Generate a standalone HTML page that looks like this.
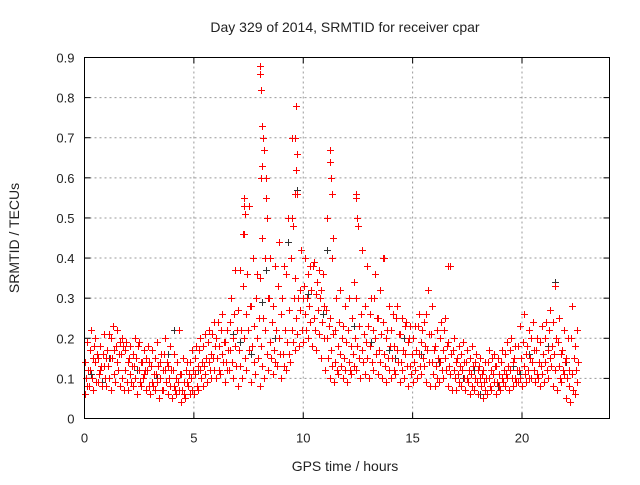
<!DOCTYPE html>
<html><head><meta charset="utf-8"><style>
body{margin:0;background:#fff;}
svg text{font-family:"Liberation Sans",sans-serif;fill:#222;}
</style></head><body>
<svg id="chart" width="640" height="480" viewBox="0 0 640 480" xmlns="http://www.w3.org/2000/svg">
<rect width="640" height="480" fill="#fff"/>
<g id="grid"></g>
<g id="axes"></g>
<path id="grey-series" stroke="#333" stroke-width="1" fill="none"/>
<path id="red-series" stroke="#f00" stroke-width="1" fill="none"/>
<rect x="84.5" y="57.5" width="525" height="361" fill="none" stroke="#000"/>
<text x="345" y="32" font-size="14" text-anchor="middle">Day 329 of 2014, SRMTID for receiver cpar</text>
<text x="0" y="0" font-size="14" text-anchor="middle" transform="translate(19,238) rotate(-90)">SRMTID / TECUs</text>
<text x="345" y="471" font-size="14" text-anchor="middle">GPS time / hours</text>
</svg>
<script>
const xTicks=[0,5,10,15,20];
const yTicks=[0,0.1,0.2,0.3,0.4,0.5,0.6,0.7,0.8,0.9];
const yTickLabels=["0","0.1","0.2","0.3","0.4","0.5","0.6","0.7","0.8","0.9"];
const sampleStep=0.2;
const lowVals=[.06,.08,.07,.09,.08,.08,.07,.09,.08,.07,.07,.08,.06,.08,.07,.06,.07,.05,.07,.06,.05,.06,.04,.05,.06,.06,.07,.08,.09,.10,.10,.11,.09,.12,.10,.08,.10,.12,.09,.11,.08,.10,.12,.11,.13,.10,.12,.14,.17,.18,.19,.20,.18,.17,.15,.12,.10,.09,.11,.10,.09,.11,.12,.10,.11,.10,.12,.11,.10,.09,.10,.11,.09,.10,.08,.09,.10,.11,.09,.08,.08,.09,.10,.08,.07,.07,.08,.07,.06,.07,.06,.05,.06,.07,.06,.07,.08,.07,.08,.09,.08,.09,.10,.09,.08,.09,.10,.08,.07,.09,.05,.04,.06];
const lowMidVals=[.08,.10,.09,.12,.10,.10,.11,.12,.10,.09,.09,.10,.09,.11,.08,.08,.09,.07,.09,.08,.07,.07,.06,.08,.07,.08,.10,.11,.12,.12,.12,.14,.12,.14,.13,.13,.15,.17,.14,.15,.13,.16,.15,.14,.16,.13,.16,.19,.21,.22,.22,.24,.22,.21,.20,.15,.13,.12,.13,.12,.12,.13,.15,.14,.15,.14,.16,.14,.13,.12,.12,.14,.12,.13,.11,.12,.13,.13,.14,.11,.10,.12,.12,.11,.10,.09,.10,.09,.08,.09,.08,.07,.08,.09,.08,.09,.10,.10,.09,.10,.11,.10,.12,.10,.11,.12,.13,.12,.10,.11,.08,.07,.09];
const midVals=[.10,.12,.14,.11,.13,.13,.15,.14,.16,.12,.11,.13,.12,.10,.12,.09,.11,.10,.12,.10,.08,.09,.07,.09,.10,.11,.12,.13,.14,.15,.15,.16,.14,.17,.18,.17,.20,.22,.18,.20,.18,.22,.19,.17,.20,.16,.19,.22,.25,.27,.26,.28,.25,.27,.24,.20,.17,.14,.16,.15,.14,.16,.18,.17,.19,.18,.20,.17,.16,.15,.15,.17,.14,.16,.13,.14,.16,.15,.17,.14,.13,.14,.15,.13,.12,.11,.12,.10,.11,.10,.10,.09,.10,.11,.09,.10,.11,.12,.10,.12,.13,.12,.14,.11,.13,.14,.15,.16,.13,.12,.10,.11,.12];
const midUpperVals=[.12,.15,.16,.13,.15,.15,.17,.16,.18,.14,.13,.15,.14,.12,.14,.11,.13,.12,.14,.12,.10,.11,.09,.11,.12,.13,.14,.15,.16,.18,.18,.19,.17,.20,.22,.22,.26,.28,.23,.25,.25,.30,.24,.22,.26,.22,.27,.30,.30,.30,.30,.32,.31,.30,.28,.23,.21,.18,.20,.19,.18,.20,.23,.21,.23,.22,.25,.21,.20,.18,.18,.21,.17,.19,.16,.17,.19,.18,.21,.17,.15,.17,.18,.16,.14,.13,.14,.12,.13,.12,.11,.10,.12,.13,.11,.12,.13,.14,.12,.15,.16,.15,.17,.14,.16,.17,.18,.20,.16,.14,.12,.15,.14];
const upperVals=[.14,.17,.18,.15,.16,.17,.20,.18,.19,.17,.15,.16,.18,.14,.15,.13,.15,.14,.16,.13,.12,.14,.11,.12,.14,.15,.17,.18,.19,.21,.20,.22,.19,.24,.26,.27,.33,.36,.28,.30,.35,.40,.30,.28,.33,.30,.36,.40,.35,.32,.33,.36,.38,.34,.32,.27,.25,.22,.24,.23,.22,.25,.30,.26,.28,.26,.30,.25,.24,.22,.22,.25,.21,.23,.20,.20,.23,.22,.26,.21,.18,.20,.22,.19,.17,.15,.16,.14,.15,.14,.13,.12,.14,.15,.13,.14,.16,.17,.15,.18,.19,.18,.20,.17,.19,.20,.22,.24,.19,.17,.15,.20,.18];
const highVals=[.19,.22,.20,.18,.21,.21,.23,.22,.20,.19,.18,.20,.19,.17,.18,.17,.19,.16,.20,.18,.16,.22,.15,.14,.17,.18,.20,.21,.22,.24,.24,.26,.22,.30,.37,.37,.46,.53,.40,.36,.45,.60,.40,.38,.44,.38,.50,.70,.56,.42,.40,.38,.39,.37,.36,.50,.40,.30,.32,.28,.30,.34,.48,.42,.38,.30,.36,.32,.40,.28,.26,.28,.25,.24,.23,.23,.26,.24,.32,.28,.22,.24,.25,.38,.20,.18,.19,.17,.18,.16,.15,.14,.17,.16,.15,.17,.19,.20,.18,.23,.26,.22,.24,.20,.23,.24,.27,.33,.25,.22,.20,.28,.22];
const spikeTimes=[8.0,8.0,8.05,8.1,8.15,8.2,8.1,9.65,9.6,9.7,9.65,9.6,11.2,11.2,11.25,11.3,12.4,12.4,12.45,7.3,7.3,7.35,13.65,16.6,21.5,9.5,8.3,8.35,8.05,9.55,11.35,7.25];
const spikeVals=[.88,.86,.82,.73,.70,.67,.63,.78,.70,.66,.62,.56,.67,.64,.60,.56,.56,.55,.50,.55,.53,.51,.40,.38,.33,.50,.55,.50,.60,.48,.45,.46];
const greyTimes=[0.3,1.1,2.4,3.3,4.1,5.2,6.3,7.1,7.6,8.3,8.7,9.3,9.6,9.7,10.2,10.9,11.6,12.3,13.1,13.9,14.6,15.4,16.2,17.3,18.1,18.9,19.6,20.3,21.2,21.5,22.3,0.8,3.8,6.8,11.1,14.2,17.8,19.9,22.0,8.1];
const greyVals=[.11,.15,.12,.10,.22,.12,.16,.19,.16,.37,.20,.44,.56,.57,.31,.26,.18,.23,.19,.17,.20,.16,.14,.10,.06,.08,.13,.16,.18,.34,.28,.09,.16,.21,.42,.15,.12,.11,.14,.29];

const X0=84.5,X1=609.5,Y0=418.5,Y1=57.5,XMAX=24,YMAX=0.9;
const xs=t=>X0+(X1-X0)*t/XMAX;
const ys=v=>Y0-(Y0-Y1)*v/YMAX;
const NS="http://www.w3.org/2000/svg";
const grid=document.getElementById('grid'),axes=document.getElementById('axes');
function mk(tag,attrs,parent){const e=document.createElementNS(NS,tag);for(const k in attrs)e.setAttribute(k,attrs[k]);parent.appendChild(e);return e;}
yTicks.forEach((v,i)=>{
  const y=ys(v);
  if(i>0&&i<yTicks.length-1){const g=mk('line',{x1:X0,x2:X1,y1:y,y2:y,stroke:'#999','stroke-dasharray':'2,3'},grid);
  
  }
  const t1=mk('line',{x1:X0,x2:X0+6,y1:y,y2:y,stroke:'#000'},axes);
  
  
  const t2=mk('line',{x1:X1,x2:X1-6,y1:y,y2:y,stroke:'#000'},axes);
  
  
  const l=mk('text',{x:X0-10,y:y+5,'font-size':'13','text-anchor':'end'},axes);
  l.textContent=yTickLabels[i];
  
  
});
xTicks.forEach(t=>{
  const x=xs(t);
  if(t>0){const g=mk('line',{x1:x,x2:x,y1:Y0,y2:Y1,stroke:'#999','stroke-dasharray':'2,3'},grid);
  
  }
  const t1=mk('line',{x1:x,x2:x,y1:Y0,y2:Y0-6,stroke:'#000'},axes);
  
  
  const t2=mk('line',{x1:x,x2:x,y1:Y1,y2:Y1+6,stroke:'#000'},axes);
  
  
  const l=mk('text',{x:x,y:Y0+24,'font-size':'13','text-anchor':'middle'},axes);
  l.textContent=String(t);
  
  
});
function plus(t,v){const x=Math.round(xs(t))+0.5,y=Math.round(ys(v))+0.5;return `M${x-3.5} ${y}H${x+3.5}M${x} ${y-3.5}V${y+3.5}`;}
let g='';greyTimes.forEach((t,i)=>{g+=plus(t,greyVals[i]);});
document.getElementById('grey-series').setAttribute('d',g);
let r='';
[[lowVals,0],[lowMidVals,0.13],[midVals,0.07],[midUpperVals,0.17],[upperVals,0.03],[highVals,0.1]].forEach(([arr,off])=>{
  arr.forEach((v,i)=>{r+=plus(i*sampleStep+off,v);});
});
spikeTimes.forEach((t,i)=>{r+=plus(t,spikeVals[i]);});
document.getElementById('red-series').setAttribute('d',r);
</script>
</body></html>
